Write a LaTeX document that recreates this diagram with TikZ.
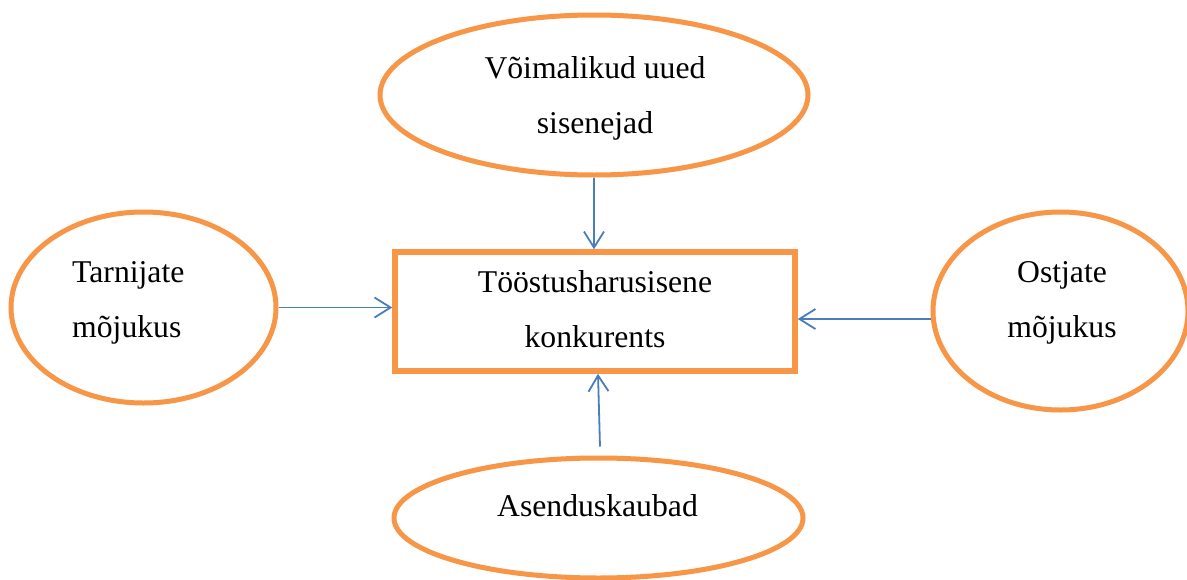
\documentclass[tikz,border=0pt]{standalone}
\usepackage{fontspec}
\setmainfont{Liberation Serif}
\usetikzlibrary{shapes.geometric,arrows.meta,calc}
\definecolor{edgeor}{HTML}{F79646}
\definecolor{arrblue}{HTML}{4A7EBB}
\begin{document}
\begin{tikzpicture}[x=1pt,y=-1pt,
  oval/.style={ellipse, draw=edgeor, line width=5pt, inner sep=0pt, fill=white},
  boxnode/.style={rectangle, draw=edgeor, line width=5.5pt, inner sep=0pt, fill=white},
  arr/.style={draw=arrblue, line width=1.8pt, -{Straight Barb[length=16pt,width=20pt]}},
  lbl/.style={font=\fontsize{31.7}{55}\selectfont, inner sep=0pt}]
\useasboundingbox (0,0) rectangle (1187,579);
\fill[white] (0,0) rectangle (1187,579);
% shapes
\node[oval, minimum width=428pt, minimum height=160pt] (top) at (594,95) {};
\node[oval, minimum width=265pt, minimum height=191pt] (L) at (143.5,307.5) {};
\node[oval, minimum width=255pt, minimum height=198pt] (R) at (1060.5,311) {};
\node[oval, minimum width=409pt, minimum height=120pt] (B) at (598.5,518) {};
\node[boxnode, minimum width=400pt, minimum height=119pt] (box) at (595,311.5) {};
% labels (base anchor = baseline of the last line)
\node[lbl, align=center, anchor=base] (ttop) at (595,133) {Võimalikud uued\\sisenejad};
\node[lbl, align=left, anchor=base west] (tL) at (72,337) {Tarnijate\\mõjukus};
\node[lbl, align=center, anchor=base] (tR) at (1062,337) {Ostjate\\mõjukus};
\node[lbl, align=center, anchor=base] (tbox) at (595,347) {Tööstusharusisene\\konkurents};
\node[lbl, anchor=base] (tB) at (597.5,516) {Asenduskaubad};
% connectors
\draw[arr] (top.south) -- (top.south |- box.north);
\draw[arr] (L.east) -- (L.east -| box.west);
\coordinate (rs) at ($(R.west)+(0,8)$);
\draw[arr] (rs) -- (rs -| box.east);
\coordinate (bs) at ($(B.north)+(1.5,-9)$);
\draw[arr] (bs) -- ($(box.south)+(3,0)$);
\end{tikzpicture}
\end{document}
